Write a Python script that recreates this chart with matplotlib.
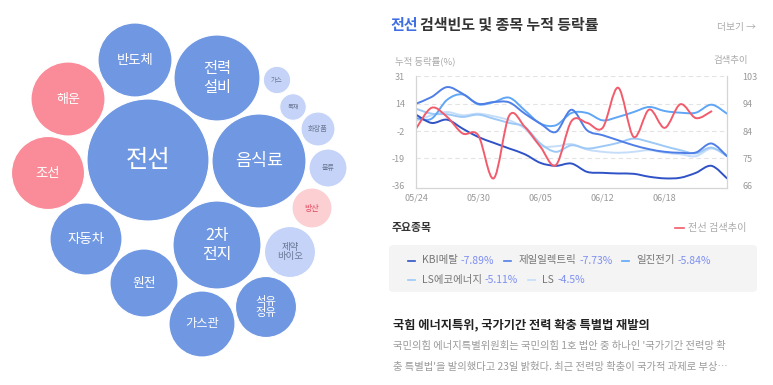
import matplotlib
matplotlib.use("Agg")
import matplotlib.pyplot as plt
import numpy as np
from matplotlib.patches import Circle, FancyBboxPatch, PathPatch
from matplotlib.path import Path

plt.rcParams["font.family"] = ["Noto Sans CJK KR", "DejaVu Sans"]

W, H = 773, 385

# ---- bubble chart (search keywords) ----
BUBBLE_LABELS = ["전선", "음식료", "전력\n설비", "2차\n전지", "반도체", "해운", "조선", "자동차",
                 "원전", "가스관", "석유\n정유", "제약\n바이오", "방산", "물류", "화장품", "목재", "가스"]
BUBBLE_VALUES = [61, 47, 43, 44, 37, 37, 36.5, 36, 34, 33, 30.5, 25.5, 20, 19, 17, 13.3, 13.7]
BUBBLE_GROUP = ["up", "up", "up", "up", "up", "down", "down", "up",
                "up", "up", "up", "weak_up", "weak_down", "weak_up", "weak_up", "weak_up", "weak_up"]

# packed layout (pixel centres) and label sizes
BUBBLE_X = [148, 259, 217, 217, 135, 68, 48, 86, 144, 202, 266, 290, 312, 328, 318, 293, 277]
BUBBLE_Y = [160, 161, 78, 245, 60, 99, 173, 239, 283, 324, 307, 252, 208, 168, 129, 107, 80]
BUBBLE_FONT = [17.5, 12.5, 11, 11.5, 9.6, 9.4, 9.6, 9.7, 9.2, 8.8, 8.2, 6.8, 5.8, 5.0, 5.2, 4.5, 4.6]

GROUP_FACE = {"up": "#7097e1", "down": "#f98c98", "weak_up": "#c4d3f7", "weak_down": "#fcd0d3"}
GROUP_TEXT = {"up": "white", "down": "white", "weak_up": "#6b7794", "weak_down": "#e2485e"}

# ---- line chart ----
DATES = ["05/24", "05/30", "06/05", "06/12", "06/18"]
DATE_IDX = [0, 4, 8, 12, 16]
LEFT_TICK_LABELS = ["-36", "-19", "-2", "14", "31"]
RIGHT_TICK_LABELS = ["66", "75", "84", "94", "103"]

SEARCH_TREND = [85.3, 92.4, 89.3, 83.7, 83.1, 68.5, 89.8, 85.9, 79.2, 73.0,
                87.9, 87.3, 85.6, 99.2, 82.5, 91.8, 85.6, 93.6, 88.9, 91.2]

STOCK_NAMES = ["KBI메탈", "제일일렉트릭", "일진전기", "LS에코에너지", "LS"]
STOCK_PCT = [-7.89, -7.73, -5.84, -5.11, -4.5]
KBI = [7.6, 2.5, 4.5, -1.0, -6.1, -9.7, -13.2, -16.7, -22.0, -23.8, -22.4,
       -27.5, -28.1, -28.5, -28.7, -30.5, -31.5, -31.1, -28.1, -23.8, -31.5]
JEIL = [14.3, 18.4, 24.5, 20.4, 14.3, 15.3, 15.1, 8.2, 2.1, -3.0, 10.6,
        -2.0, -5.0, -8.1, -11.2, -13.6, -15.2, -15.8, -15.6, -10.1, -17.9]
ILJIN = [5.5, 5.1, 16.7, 20.0, 13.9, 15.3, 18.0, 10.2, 2.1, 1.1, 8.6,
         8.6, 4.1, 6.2, 9.2, 12.3, 9.8, 8.8, 8.8, 13.7, 8.2]
LS_ECO = [11.2, 8.2, 7.8, 6.2, 7.6, 5.1, 2.5, 0.0, -10.1, -15.2, -11.2,
          -13.2, -11.8, -9.7, -7.1, -9.1, -11.8, -14.2, -16.2, -12.6, -17.9]
LS = [3.7, 7.2, 9.2, 7.2, 8.2, 6.6, 4.1, -1.0, -11.2, -11.8, -10.5,
      -13.8, -15.2, -15.8, -15.2, -14.2, -15.8, -16.7, -17.9, -13.2, -17.3]
STOCK_SERIES = [KBI, JEIL, ILJIN, LS_ECO, LS]
STOCK_COLORS = ["#2f52c6", "#4f7fe6", "#5fa6f7", "#9dc9f6", "#c6ddfa"]
RED = "#f25b6b"

NEWS_TITLE = "국힘 에너지특위, 국가기간 전력 확충 특별법 재발의"
NEWS_BODY = ["국민의힘 에너지특별위원회는 국민의힘 1호 법안 중 하나인 '국가기간 전력망 확",
             "충 특별법'을 발의했다고 23일 밝혔다. 최근 전력망 확충이 국가적 과제로 부상…"]


def fx(x):
    return x / W


def fy(y):
    return 1 - y / H


def smooth_path(xs, ys):
    pts = np.column_stack([xs, ys]).astype(float)
    ext = np.vstack([pts[0], pts, pts[-1]])
    verts, codes = [pts[0]], [Path.MOVETO]
    for i in range(len(pts) - 1):
        p0, p1, p2, p3 = ext[i], ext[i + 1], ext[i + 2], ext[i + 3]
        verts += [p1 + (p2 - p0) / 6, p2 - (p3 - p1) / 6, p2]
        codes += [Path.CURVE4] * 3
    return Path(verts, codes)


fig = plt.figure(figsize=(W / 100, H / 100), dpi=100)
renderer = fig.canvas.get_renderer()


def text_end(t):
    return t.get_window_extent(renderer).x1


# bubbles
axb = fig.add_axes([0, 0, 380 / W, 1])
axb.set_xlim(0, 380)
axb.set_ylim(H, 0)
axb.axis("off")
for lab, r, g, x, y, fs in zip(BUBBLE_LABELS, BUBBLE_VALUES, BUBBLE_GROUP, BUBBLE_X, BUBBLE_Y, BUBBLE_FONT):
    axb.add_patch(Circle((x, y), r, facecolor=GROUP_FACE[g], edgecolor="white", lw=0.8))
    axb.text(x, y, lab, ha="center", va="center", fontsize=fs, color=GROUP_TEXT[g],
             linespacing=1.1, fontweight="medium")

# title
t = fig.text(fx(390), fy(25), "전선", fontsize=10.8, fontweight="bold", color="#3e6fe4", va="center")
fig.text(text_end(t) / W + 3 / W, fy(25), "검색빈도 및 종목 누적 등락률", fontsize=10.8,
         fontweight="bold", color="#333333", va="center")
fig.text(fx(756), fy(27), "더보기 →", fontsize=7, color="#aaaaaa", ha="right", va="center")

# line chart
top, bot = 76, 188.3
ax = fig.add_axes([fx(416), fy(bot), (727 - 416) / W, (bot - top) / H])
lo_l, hi_l = -36, 31
lo_r, hi_r = 66, 103
ext = (bot - 185.7) / (185.7 - top)
ax.set_ylim(lo_l - ext * (hi_l - lo_l), hi_l + 0.3)
ax.set_xlim(0, len(KBI) - 1)
ax2 = ax.twinx()
ax2.set_ylim(lo_r - ext * (hi_r - lo_r), hi_r + 0.3 * (hi_r - lo_r) / (hi_l - lo_l))

ax.set_yticks(np.linspace(lo_l, hi_l, 5))
ax.set_yticklabels(LEFT_TICK_LABELS)
ax2.set_yticks(np.linspace(lo_r, hi_r, 5))
ax2.set_yticklabels(RIGHT_TICK_LABELS)
ax.set_xticks(DATE_IDX)
ax.set_xticklabels(DATES)
for a in (ax, ax2):
    a.tick_params(length=0, labelsize=6.5, labelcolor="#999999")
    for s in a.spines.values():
        s.set_color("#d5d5d5")
        s.set_linewidth(0.8)
    a.spines["top"].set_visible(False)
ax.tick_params(axis="y", pad=8)
ax2.tick_params(axis="y", pad=11)
ax.tick_params(axis="x", pad=4)
for v in np.linspace(lo_l, hi_l, 5)[1:]:
    ax.axhline(v, color="#e3e3e3", lw=0.8, ls=(0, (4, 3)), zorder=0)

xs = np.arange(len(KBI))
for series, col in list(zip(STOCK_SERIES, STOCK_COLORS))[::-1]:
    ax.add_patch(PathPatch(smooth_path(xs, series), fill=False, edgecolor=col, lw=1.4,
                           capstyle="round", joinstyle="round"))
ax2.add_patch(PathPatch(smooth_path(np.arange(len(SEARCH_TREND)), SEARCH_TREND), fill=False,
                        edgecolor=RED, lw=1.4, capstyle="round"))

fig.text(fx(395), fy(61), "누적 등락률(%)", fontsize=6.8, color="#aaaaaa", va="center")
fig.text(fx(748), fy(61), "검색추이", fontsize=6.8, color="#aaaaaa", va="center", ha="right")

# legend header
fig.text(fx(392), fy(228), "주요종목", fontsize=7.8, fontweight="bold", color="#333333", va="center")
fig.add_artist(plt.Line2D([fx(675), fx(684)], [fy(228), fy(228)], color=RED, lw=1.2))
fig.text(fx(688), fy(228), "전선 검색추이", fontsize=7.3, color="#aaaaaa", va="center")

# legend box
fig.add_artist(FancyBboxPatch((fx(389), fy(292)), (757 - 389) / W, (292 - 245) / H,
                              boxstyle="round,pad=0,rounding_size=0.008", transform=fig.transFigure,
                              facecolor="#f4f4f5", edgecolor="none"))
x0, row_y = 408, [260.5, 280]
x = x0
for i, (name, pct, col) in enumerate(zip(STOCK_NAMES, STOCK_PCT, STOCK_COLORS)):
    if i == 3:
        x = x0
    y = row_y[0] if i < 3 else row_y[1]
    fig.add_artist(plt.Line2D([fx(x), fx(x + 7)], [fy(y), fy(y)], color=col, lw=1.2))
    tn = fig.text(fx(x + 14), fy(y), name, fontsize=7.5, color="#777777", va="center")
    xe = text_end(tn)
    tp = fig.text(fx(xe + 3), fy(y), f"{pct:g}%", fontsize=7.5, color="#7d8ff0", va="center")
    x = text_end(tp) + 10

# news
fig.text(fx(393), fy(325), NEWS_TITLE, fontsize=8.8, fontweight="bold", color="#222222", va="center")
for k, line in enumerate(NEWS_BODY):
    fig.text(fx(393), fy(346 + 21 * k), line, fontsize=7.4, color="#9a9a9a", va="center")

fig.savefig("out.png", dpi=100, facecolor="white")
